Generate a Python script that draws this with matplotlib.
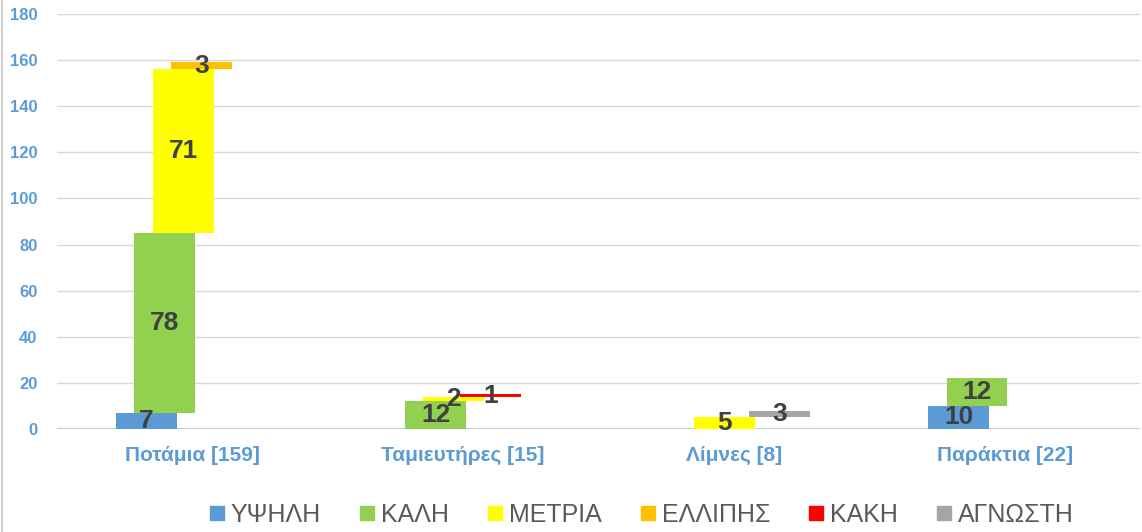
import numpy as np
import matplotlib
matplotlib.use("Agg")
import matplotlib.pyplot as plt
from matplotlib.lines import Line2D

CATEGORIES = ['Ποτάμια [159]', 'Ταμιευτήρες [15]', 'Λίμνες [8]', 'Παράκτια [22]']
SERIES = ['ΥΨΗΛΗ', 'ΚΑΛΗ', 'ΜΕΤΡΙΑ', 'ΕΛΛΙΠΗΣ', 'ΚΑΚΗ', 'ΑΓΝΩΣΤΗ']
COLORS = ['#5B9BD5', '#92D050', '#FFFF00', '#FFC000', '#FF0000', '#A5A5A5']

# counts per category, one list per series
ypsili = [7, 0, 0, 10]
kali = [78, 12, 0, 12]
metria = [71, 2, 5, 0]
ellipis = [3, 0, 0, 0]
kaki = [0, 1, 0, 0]
agnosti = [0, 0, 3, 0]

values = np.array([ypsili, kali, metria, ellipis, kaki, agnosti], dtype=float)
bottoms = np.vstack([np.zeros(len(CATEGORIES)), np.cumsum(values, axis=0)[:-1]])

plt.rcParams['font.family'] = ['Liberation Sans', 'DejaVu Sans']

fig = plt.figure(figsize=(11.42, 5.32), dpi=100)
ax = fig.add_axes([57 / 1142, 103 / 532, 1083 / 1142, 415 / 532])

x = np.arange(len(CATEGORIES))
width = 0.225
step = 0.068

for j, name in enumerate(SERIES):
    xs = x + (j - 2.5) * step
    for i in range(len(CATEGORIES)):
        v = values[j, i]
        if v <= 0:
            continue
        ax.bar(xs[i], v, width, bottom=bottoms[j, i], color=COLORS[j], zorder=2)
        ax.text(xs[i], bottoms[j, i] + v / 2, f'{int(v)}', ha='center', va='center',
                fontsize=19, fontweight='bold', color='#404040', zorder=3)

ax.set_xlim(-0.5, 3.5)
ax.set_ylim(0, 180)
ax.set_yticks(np.arange(0, 181, 20))
ax.grid(axis='y', color='#D9D9D9', linewidth=1, zorder=0)
ax.axhline(0, color='#9DC3E6', linewidth=1.2, zorder=1)
for s in ax.spines.values():
    s.set_visible(False)
ax.tick_params(axis='both', length=0)
ax.tick_params(axis='y', pad=14, labelcolor='#5B9BD5', labelsize=12)
ax.tick_params(axis='x', pad=12, labelcolor='#5B9BD5', labelsize=15)
for t in ax.get_yticklabels():
    t.set_fontweight('bold')
ax.set_xticks(x)
ax.set_xticklabels(CATEGORIES, fontweight='bold')

handles = [Line2D([], [], marker='s', linestyle='none', markersize=9.5,
                  markerfacecolor=c, markeredgecolor=c) for c in COLORS]
fig.legend(handles, SERIES, loc='center', bbox_to_anchor=(641 / 1142, 17 / 532),
           ncol=6, frameon=False, fontsize=18, labelcolor='#595959',
           handlelength=0.7, handletextpad=0.2, columnspacing=1.5)

fig.add_artist(Line2D([2 / 1142, 2 / 1142], [0, 1], color='#D0D0D0', linewidth=1.5))

fig.savefig('out.png', dpi=100)
